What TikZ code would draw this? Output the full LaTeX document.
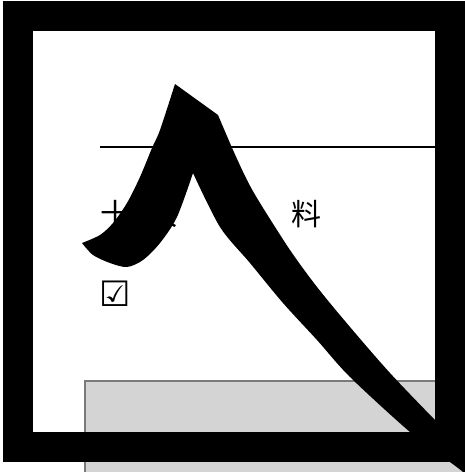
\documentclass[tikz,border=0pt]{standalone}
\usepackage{fontspec}
\usepackage{tikz}
\newfontfamily\jpfont{Noto Sans CJK JP}
\newfontfamily\symfont{DejaVu Sans}

\begin{document}
\begin{tikzpicture}[x=1pt,y=-1pt,
        txt/.style={inner sep=0pt, anchor=base west, font=\jpfont\fontsize{30}{30}\selectfont},
        chk/.style={inner sep=0pt, anchor=base west, font=\symfont\fontsize{35}{35}\selectfont},
        frm/.style={draw=black, line width=30.4pt},
        panel/.style={draw=black!52, fill=black!17, line width=1.3pt}]
    \useasboundingbox (0,0) rectangle (465,472);
    % grey panel at the bottom
    \draw[panel] (85,381) rectangle (540,540);
    % rule and texts
    \draw[line width=1.6pt] (100,147) -- (440,147);
    \node[txt] (ju) at (100.5,225.5) {十};
    \node[txt] (hito) at (147,225.5) {人};
    \node[txt] (ryo) at (291.5,225.5) {料};
    \node[chk] (box) at (99.5,306) {☑};
    % thick frame
    \draw[frm] (18.2,15.8) rectangle (449.8,447.2);
    % the big stroke shape
    \fill[black] (175,84) -- (218,115)
        -- plot[smooth] coordinates {(218,115) (233,150) (247,180) (260,203) (290,250)
                (317,287) (350,327) (390,373) (435,420) (487,472) (520,505)}
        -- plot[smooth] coordinates {(495,500) (463,472) (450,462) (410,432) (350,377)
                (317,340) (283,303) (250,263) (220,227) (193,173)}
        -- plot[smooth] coordinates {(193,173) (177,217) (160,243) (143,260) (127,267)
                (110,263) (93,255) (82,243)}
        -- plot[smooth] coordinates {(82,243) (100,235) (113,223) (127,203) (140,177)
                (152,148) (160,130) (175,84)}
        -- cycle;
\end{tikzpicture}
\end{document}
